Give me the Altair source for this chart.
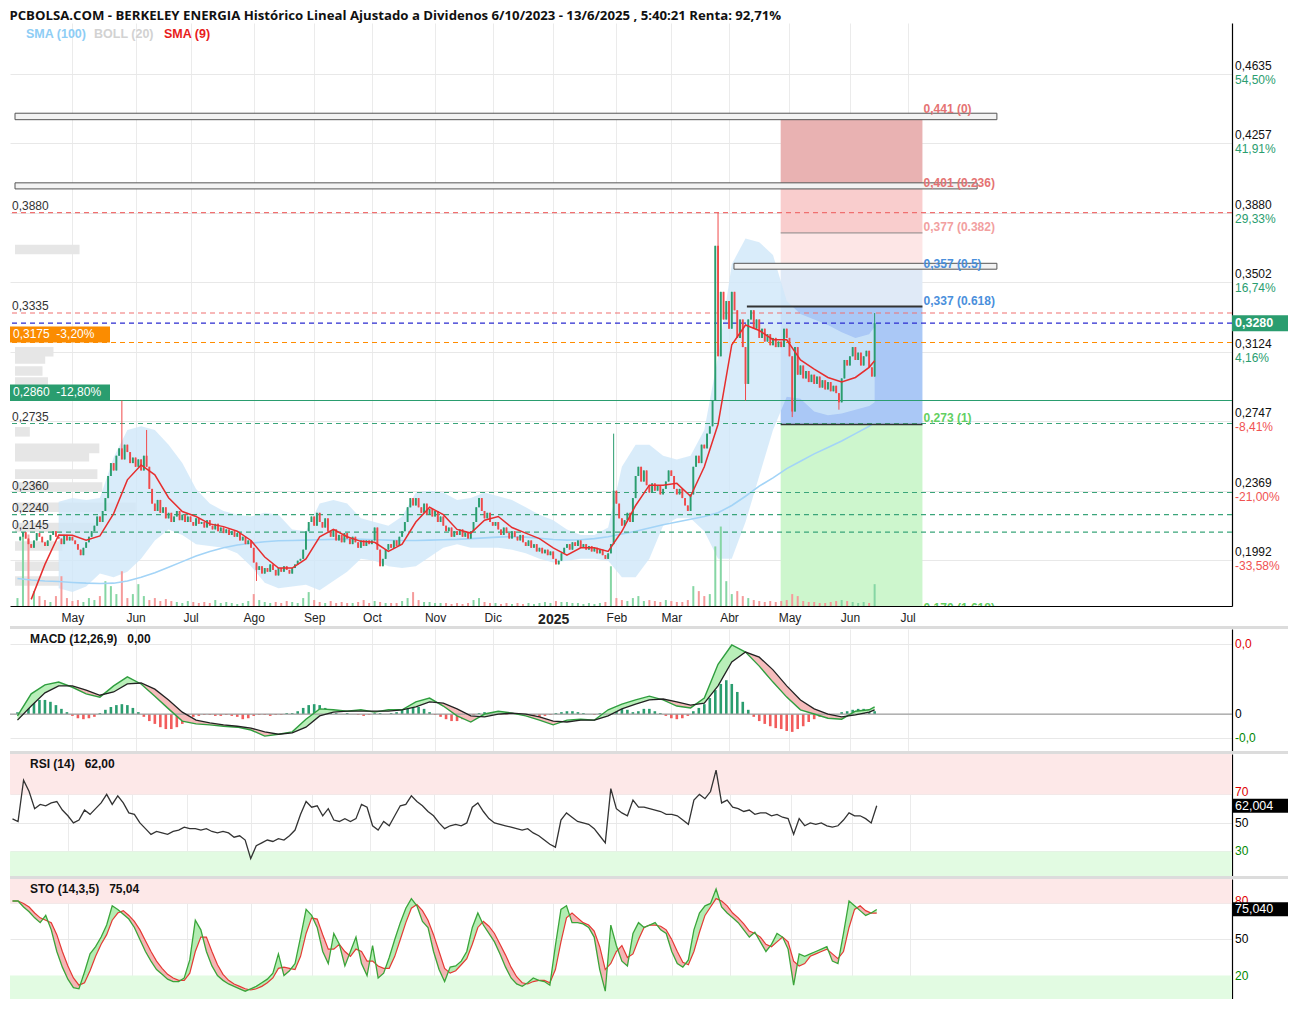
import altair as alt
import numpy as np
import pandas as pd

FONT = "Liberation Sans"
W = 1222
H_MAIN, H_MACD, H_RSI, H_STO = 583, 122, 122, 120
XMIN = -20.9
XMAX = XMIN + W / 2.77
YMIN, YMAX = 0.1744, 0.4910
MACD_DOM = [-7.87, 18.1]
RSI_DOM = [12.8, 98.3]
STO_DOM = [0.5, 100.3]
GREEN = "#2a9d6f"
RED = "#f05252"
NB = "\u00a0"

TITLE = ("PCBOLSA.COM - BERKELEY ENERGIA Histórico Lineal Ajustado a Dividenos "
         "6/10/2023 - 13/6/2025 , 5:40:21 Renta: 92,71%")

# ---------------- daily closes (weekdays from 2024-04-03) ----------------
close_2024_04 = [0.2100, 0.2120, 0.2145, 0.2110, 0.2080, 0.2060, 0.2100, 0.2140, 0.2120, 0.2090,
                 0.2070, 0.2100, 0.2130, 0.2150, 0.2120, 0.2110, 0.2080, 0.2130, 0.2100, 0.2120]
close_2024_05 = [0.2100, 0.2080, 0.2050, 0.2020, 0.2060, 0.2090, 0.2120, 0.2150, 0.2180, 0.2230,
                 0.2200, 0.2260, 0.2330, 0.2450, 0.2520, 0.2480, 0.2560, 0.2600, 0.2540, 0.2620,
                 0.2580, 0.2520, 0.2550]
close_2024_06 = [0.2500, 0.2540, 0.2480, 0.2560, 0.2500, 0.2380, 0.2300, 0.2260, 0.2320, 0.2250,
                 0.2280, 0.2220, 0.2250, 0.2200, 0.2230, 0.2260, 0.2210, 0.2240, 0.2200, 0.2230]
close_2024_07 = [0.2200, 0.2180, 0.2220, 0.2190, 0.2200, 0.2170, 0.2210, 0.2180, 0.2160, 0.2190,
                 0.2150, 0.2170, 0.2140, 0.2160, 0.2130, 0.2150, 0.2120, 0.2140, 0.2100, 0.2120,
                 0.2080, 0.2100, 0.2060]
close_2024_08 = [0.1980, 0.1940, 0.1960, 0.1920, 0.1950, 0.1930, 0.1970, 0.1940, 0.1910, 0.1950,
                 0.1930, 0.1960, 0.1940, 0.1920, 0.1950, 0.1970, 0.1990, 0.2000, 0.2050, 0.2150,
                 0.2200, 0.2230]
close_2024_09 = [0.2180, 0.2250, 0.2200, 0.2170, 0.2220, 0.2150, 0.2120, 0.2160, 0.2100, 0.2130,
                 0.2090, 0.2140, 0.2110, 0.2080, 0.2120, 0.2090, 0.2060, 0.2100, 0.2070, 0.2100,
                 0.2080]
close_2024_10 = [0.2100, 0.2170, 0.2050, 0.1960, 0.2000, 0.2050, 0.2080, 0.2060, 0.2100, 0.2070,
                 0.2120, 0.2150, 0.2200, 0.2280, 0.2330, 0.2290, 0.2330, 0.2280, 0.2250, 0.2300,
                 0.2240, 0.2270, 0.2230]
close_2024_11 = [0.2260, 0.2200, 0.2230, 0.2180, 0.2150, 0.2170, 0.2120, 0.2150, 0.2130, 0.2160,
                 0.2120, 0.2140, 0.2110, 0.2150, 0.2200, 0.2280, 0.2330, 0.2260, 0.2220, 0.2250,
                 0.2200]
close_2024_12 = [0.2180, 0.2200, 0.2160, 0.2130, 0.2170, 0.2140, 0.2110, 0.2150, 0.2120, 0.2100,
                 0.2130, 0.2090, 0.2070, 0.2100, 0.2060, 0.2080, 0.2040, 0.2060, 0.2030, 0.2050,
                 0.2020, 0.2040]
close_2025_01 = [0.2000, 0.1970, 0.1990, 0.2030, 0.2060, 0.2080, 0.2050, 0.2090, 0.2070, 0.2100,
                 0.2060, 0.2080, 0.2050, 0.2070, 0.2040, 0.2060, 0.2030, 0.2050, 0.2020, 0.2000,
                 0.2030, 0.2080, 0.2370]
close_2025_02 = [0.2300, 0.2220, 0.2180, 0.2210, 0.2250, 0.2200, 0.2330, 0.2450, 0.2500, 0.2420,
                 0.2480, 0.2400, 0.2360, 0.2410, 0.2370, 0.2400, 0.2350, 0.2380, 0.2420, 0.2480]
close_2025_03 = [0.2450, 0.2380, 0.2350, 0.2380, 0.2330, 0.2290, 0.2260, 0.2350, 0.2500, 0.2560,
                 0.2520, 0.2620, 0.2600, 0.2680, 0.2720, 0.2860, 0.3700, 0.3100, 0.3450, 0.3300,
                 0.3400]
close_2025_04 = [0.3250, 0.3450, 0.3350, 0.3200, 0.3300, 0.3150, 0.2950, 0.3300, 0.3350, 0.3250,
                 0.3300, 0.3200, 0.3250, 0.3180, 0.3220, 0.3160, 0.3200, 0.3150, 0.3180, 0.3150,
                 0.3250, 0.3200]
close_2025_05 = [0.3100, 0.2800, 0.3150, 0.3000, 0.3050, 0.2980, 0.3020, 0.2960, 0.3000, 0.2950,
                 0.2990, 0.2930, 0.2970, 0.2920, 0.2960, 0.2910, 0.2940, 0.2900, 0.2850, 0.2980,
                 0.3080, 0.3050]
close_2025_06 = [0.3100, 0.3150, 0.3080, 0.3120, 0.3050, 0.3100, 0.3130, 0.3040, 0.2990, 0.3280]

# notable wicks (trading-day index k, relative to 2024-05-01)
hi_k = [18, 27, 197, 235, 292]
hi_v = [0.2860, 0.2700, 0.2680, 0.3880, 0.3335]
lo_k = [67, 245, 262, 279]
lo_v = [0.1880, 0.2860, 0.2770, 0.2810]

# ---------------- 5-day sampled overlays ----------------
sma9 = [None, 0.178, 0.197, 0.213, 0.2128, 0.2101, 0.2125, 0.2246, 0.2429, 0.2510,
        0.2456, 0.2332, 0.2257, 0.2230, 0.2190, 0.2175, 0.2150, 0.2100, 0.2010, 0.1950,
        0.1950, 0.2000, 0.2120, 0.2160, 0.2120, 0.2095, 0.2090, 0.2040, 0.2080, 0.2200,
        0.2280, 0.2240, 0.2160, 0.2140, 0.2210, 0.2230, 0.2170, 0.2140, 0.2110, 0.2060,
        0.2020, 0.2060, 0.2060, 0.2040, 0.2150, 0.2290, 0.2400, 0.2400, 0.2410, 0.2340,
        0.2500, 0.2731, 0.3163, 0.3270, 0.3240, 0.3190, 0.3190, 0.3080, 0.3030, 0.2985,
        0.2960, 0.2985, 0.3040, 0.3076]
sma100 = [0.1893, 0.1885, 0.1880, 0.1877, 0.1872, 0.1868, 0.1866, 0.1868, 0.1880, 0.1900,
          0.1925, 0.1955, 0.1985, 0.2015, 0.2040, 0.2060, 0.2075, 0.2085, 0.2093, 0.2098,
          0.2100, 0.2102, 0.2104, 0.2106, 0.2107, 0.2106, 0.2104, 0.2102, 0.2100, 0.2100,
          0.2102, 0.2104, 0.2106, 0.2110, 0.2114, 0.2118, 0.2120, 0.2118, 0.2112, 0.2105,
          0.2102, 0.2104, 0.2110, 0.2120, 0.2135, 0.2150, 0.2168, 0.2185, 0.2200, 0.2215,
          0.2230, 0.2250, 0.2290, 0.2340, 0.2395, 0.2440, 0.2490, 0.2530, 0.2570, 0.2605,
          0.2640, 0.2680, 0.2720, 0.2742]
bb_up = [None, None, None, 0.2310, 0.2330, 0.2320, 0.2330, 0.2550, 0.2700, 0.2720,
         0.2700, 0.2620, 0.2520, 0.2380, 0.2300, 0.2260, 0.2240, 0.2230, 0.2250, 0.2240,
         0.2160, 0.2150, 0.2300, 0.2320, 0.2300, 0.2220, 0.2200, 0.2180, 0.2230, 0.2360,
         0.2370, 0.2360, 0.2320, 0.2330, 0.2360, 0.2340, 0.2320, 0.2280, 0.2240, 0.2210,
         0.2160, 0.2130, 0.2130, 0.2170, 0.2500, 0.2620, 0.2620, 0.2560, 0.2540, 0.2560,
         0.2700, 0.3100, 0.3600, 0.3740, 0.3720, 0.3650, 0.3400, 0.3330, 0.3300, 0.3270,
         0.3230, 0.3200, 0.3220, 0.3260]
bb_lo = [None, None, None, 0.1840, 0.1820, 0.1850, 0.1920, 0.1900, 0.1930, 0.2000,
         0.2100, 0.2160, 0.2130, 0.2080, 0.2070, 0.2060, 0.2030, 0.1960, 0.1870, 0.1840,
         0.1850, 0.1860, 0.1830, 0.1880, 0.1930, 0.2000, 0.1990, 0.1960, 0.1950, 0.1960,
         0.2010, 0.2060, 0.2080, 0.2060, 0.2060, 0.2060, 0.2050, 0.2030, 0.2000, 0.1980,
         0.1990, 0.2000, 0.2000, 0.1990, 0.1900, 0.1900, 0.2000, 0.2180, 0.2220, 0.2220,
         0.2150, 0.2000, 0.2000, 0.2200, 0.2450, 0.2700, 0.2880, 0.2870, 0.2800, 0.2780,
         0.2790, 0.2810, 0.2830, 0.2850]
macd = [-0.4, 4.3, 6.2, 6.8, 5.7, 4.3, 3.6, 6.0, 7.9, 6.4,
        3.8, 1.1, -1.5, -2.1, -2.3, -2.6, -2.8, -3.4, -4.7, -4.3,
        -3.8, -1.1, 1.1, 0.9, 0.6, 0.9, 0.4, 0.9, 0.9, 2.6,
        3.4, 1.7, -0.4, -1.7, 0.0, 0.6, 0.2, -0.4, -1.3, -2.3,
        -1.3, -1.1, -1.3, 0.9, 2.1, 3.0, 3.8, 3.0, 1.7, 1.3,
        3.4, 10.6, 14.7, 13.2, 10.2, 6.8, 3.6, 0.9, 0.0, -0.9,
        -1.1, 0.6, 0.9, 1.5]
signal = [-1.3, 1.7, 4.5, 6.0, 6.0, 5.1, 4.0, 4.7, 6.4, 6.6,
          5.3, 3.0, 0.4, -1.3, -1.9, -2.3, -2.6, -3.0, -3.8, -4.3,
          -4.0, -2.8, -0.4, 0.4, 0.6, 0.6, 0.6, 0.6, 0.9, 1.5,
          2.6, 2.3, 1.1, -0.4, -0.6, 0.0, 0.2, 0.0, -0.6, -1.5,
          -1.7, -1.3, -1.3, -0.4, 1.1, 2.1, 3.0, 3.2, 2.6, 1.9,
          2.3, 6.0, 11.1, 13.2, 12.1, 9.4, 6.0, 3.0, 1.1, 0.0,
          -0.6, -0.2, 0.4, 0.9]

# ---------------- 2-day sampled series ----------------
hist = [0.4, 1.1, 1.9, 2.6, 3.0, 3.0, 2.6, 1.9, 1.1, 0.4,
        -0.4, -0.9, -1.1, -0.9, -0.6, 0.2, 0.9, 1.5, 1.9, 2.1,
        1.9, 1.3, 0.4, -0.6, -1.5, -2.1, -2.8, -3.2, -3.2, -2.8,
        -2.1, -1.3, -0.6, -0.4, -0.2, -0.2, -0.4, -0.4, -0.2, -0.4,
        -0.6, -1.1, -0.9, -0.4, -0.2, -0.2, -0.4, -0.2, -0.2, 0.2,
        0.2, 0.6, 1.3, 1.9, 2.1, 1.9, 1.3, 0.6, 0.2, 0.0,
        0.2, 0.0, -0.2, -0.4, -0.2, 0.2, 0.2, 0.0, 0.2, 0.4,
        0.9, 1.3, 1.7, 1.5, 1.1, 0.4, -0.2, -0.6, -1.1, -1.5,
        -1.5, -1.1, -0.6, -0.2, 0.2, 0.4, 0.2, 0.0, -0.2, -0.2,
        0.0, 0.2, -0.2, -0.4, -0.4, -0.6, -0.4, -0.2, 0.2, 0.4,
        0.6, 0.6, 0.4, 0.2, 0.0, -0.2, 0.2, 0.4, 0.9, 1.1,
        1.1, 0.9, 0.4, 0.6, 1.1, 1.1, 0.6, 0.2, -0.4, -0.9,
        -1.1, -0.9, -0.4, 0.6, 1.3, 2.1, 3.4, 5.1, 6.4, 7.2,
        6.4, 4.7, 2.6, 0.9, -0.6, -1.5, -2.1, -2.6, -3.0, -3.2,
        -3.6, -3.8, -3.2, -2.6, -1.7, -1.1, -0.6, -0.4, -0.2, 0.0,
        0.4, 0.6, 0.9, 1.1, 1.1, 0.9, 0.6]
volume = [8, 70, 72, 15, 10, 6, 4, 10, 30, 8,
          5, 6, 4, 8, 6, 10, 25, 20, 12, 35,
          8, 12, 22, 10, 6, 8, 5, 7, 5, 4,
          3, 5, 4, 3, 4, 3, 6, 3, 4, 3,
          2, 3, 5, 12, 6, 4, 3, 4, 3, 5,
          4, 3, 8, 14, 6, 4, 3, 5, 3, 4,
          3, 3, 4, 6, 3, 5, 4, 3, 3, 3,
          5, 8, 14, 6, 4, 4, 3, 3, 3, 2,
          3, 2, 3, 6, 8, 4, 3, 3, 2, 3,
          2, 3, 2, 3, 2, 3, 4, 3, 5, 4,
          4, 3, 3, 2, 3, 2, 3, 4, 40, 8,
          6, 5, 8, 10, 5, 6, 5, 4, 6, 5,
          4, 4, 6, 20, 15, 10, 12, 60, 80, 25,
          12, 15, 10, 8, 6, 5, 4, 5, 4, 5,
          6, 12, 10, 5, 4, 4, 3, 3, 4, 5,
          6, 5, 4, 3, 4, 3, 22]
rsi = [52.8, 51, 80, 72, 60, 63, 62, 64, 65, 59,
       55, 50, 52, 59, 56, 60, 64, 70, 63, 69,
       64, 57, 56, 50, 46, 42, 44, 43, 42, 44,
       45, 47, 46, 46, 45, 46, 44, 43, 44, 43,
       40, 41, 38, 25, 34, 36, 38, 37, 39, 38,
       41, 45, 56, 65, 61, 62, 55, 60, 52, 51,
       53, 51, 53, 63, 61, 48, 45, 51, 48, 55,
       62, 63, 69, 65, 62, 58, 55, 50, 46, 48,
       49, 48, 50, 61, 64, 58, 53, 50, 49, 48,
       47, 46, 45, 46, 43, 41, 38, 35, 33, 52,
       57, 54, 51, 50, 49, 46, 41, 36, 74, 60,
       57, 55, 66, 61, 61, 60, 59, 58, 56, 56,
       55, 52, 49, 66, 70, 67, 72, 87, 64, 66,
       61, 60, 58, 59, 56, 57, 57, 55, 56, 54,
       53, 42, 53, 48, 50, 49, 50, 48, 47, 48,
       52, 57, 55, 55, 53, 50, 62]
sto_k = [82, 82, 77, 73, 68, 64, 70, 58, 40, 27,
         17, 10, 9, 23, 38, 44, 52, 62, 78, 75,
         71, 67, 60, 50, 40, 32, 25, 21, 17, 15,
         15, 18, 33, 66, 58, 40, 28, 20, 16, 13,
         11, 9, 7, 9, 11, 14, 17, 22, 38, 20,
         24, 30, 52, 75, 70, 60, 40, 30, 55, 46,
         28, 40, 52, 30, 20, 45, 18, 22, 35, 50,
         64, 76, 84, 78, 65, 60, 40, 25, 15, 27,
         28, 32, 40, 60, 72, 62, 55, 48, 38, 27,
         18, 13, 11, 14, 18, 16, 15, 12, 45, 75,
         78, 64, 64, 63, 60, 52, 25, 7, 62, 45,
         32, 28, 55, 64, 60, 62, 64, 58, 55, 40,
         30, 27, 33, 58, 72, 78, 80, 92, 77, 72,
         68, 64, 58, 52, 56, 48, 40, 46, 55, 52,
         42, 12, 38, 36, 38, 40, 42, 44, 32, 30,
         55, 82, 78, 74, 70, 72, 75]
sto_d = [82, 82, 80, 77, 72, 68, 66, 64, 54, 40,
         28, 18, 12, 14, 24, 36, 46, 54, 66, 72,
         74, 70, 65, 58, 49, 40, 32, 26, 21, 18,
         16, 16, 22, 40, 52, 52, 40, 29, 21, 16,
         13, 11, 9, 8, 9, 11, 14, 18, 26, 27,
         26, 25, 36, 55, 68, 67, 54, 42, 42, 46,
         40, 36, 42, 40, 32, 32, 28, 26, 26, 36,
         50, 64, 76, 79, 74, 66, 54, 40, 26, 22,
         24, 29, 34, 46, 60, 65, 61, 55, 46, 37,
         27, 19, 14, 13, 15, 16, 16, 14, 25, 48,
         68, 72, 68, 64, 62, 57, 44, 25, 30, 40,
         45, 35, 38, 50, 60, 62, 62, 61, 58, 50,
         40, 31, 29, 40, 56, 70, 77, 84, 82, 78,
         72, 68, 63, 57, 55, 52, 46, 44, 48, 52,
         48, 32, 28, 30, 36, 38, 40, 42, 38, 34,
         40, 60, 75, 78, 74, 72, 72]

# ---------------- levels, labels ----------------
r_vals = [0.4635, 0.4257, 0.3880, 0.3502, 0.3124, 0.2747, 0.2369, 0.1992]
r_txt = ["0,4635", "0,4257", "0,3880", "0,3502", "0,3124", "0,2747", "0,2369", "0,1992"]
r_pct = ["54,50%", "41,91%", "29,33%", "16,74%", "4,16%", "-8,41%", "-21,00%", "-33,58%"]

lev_v = [0.3880, 0.3335, 0.3280, 0.3175, 0.2735, 0.2360, 0.2240, 0.2145]
lev_c = ["#f07070", "#f07070", "#2b2bd0", "#ff8c00", "#3aa57a", "#3aa57a", "#3aa57a", "#3aa57a"]
left_v = [0.3880, 0.3335, 0.2735, 0.2360, 0.2240, 0.2145]
left_txt = ["0,3880", "0,3335", "0,2735", "0,2360", "0,2240", "0,2145"]
support_v = 0.2860
now_v, now_txt = 0.3280, "0,3280"
orange_v, orange_txt = 0.3175, "0,3175" + NB * 2 + "-3,20%"
green_v, green_txt = 0.2860, "0,2860" + NB * 2 + "-12,80%"

fib_v = [0.441, 0.401, 0.377, 0.357, 0.337, 0.273, 0.170]
fib_txt = ["0,441 (0)", "0,401 (0.236)", "0,377 (0.382)", "0,357 (0.5)",
           "0,337 (0.618)", "0,273 (1)", "0,170 (1.618)"]
fib_col = ["#e57373", "#e57373", "#f2a0a0", "#4a8fdc", "#4a8fdc", "#62cf62", "#62cf62"]
zone_lo = [0.401, 0.377, 0.357, 0.337, 0.273, YMIN]
zone_hi = [0.441, 0.401, 0.377, 0.357, 0.337, 0.273]
zone_col = ["#e9b2b2", "#f9cdcd", "#fde6e6", "#e0eaf7", "#aac8f6", "#cdf6cd"]
zone_k0, zone_k1 = 257.8, 309.4
box_lo = [0.4385, 0.4009, 0.3573]
box_hi = [0.4420, 0.4042, 0.3605]
box_k0 = [XMIN, XMIN, 240.8]
box_k1 = [336.5, 329.3, 336.5]
fl_v = [0.377, 0.337, 0.273]
fl_k0 = [257.8, 245.5, 257.8]
fl_k1 = [309.4, 309.4, 309.4]
fl_col = ["#888888", "#333333", "#333333"]
fl_w = [1.0, 2.0, 1.5]

pv_price = [0.368, 0.3215, 0.3125, 0.3085, 0.3020, 0.2960, 0.2690, 0.2600, 0.2555, 0.2460,
            0.2390, 0.2280, 0.2170, 0.2070, 0.1960, 0.1880]
pv_len = [23.5, 18, 14, 11, 10, 12, 5.4, 30.7, 27, 30, 31.8, 44, 31.8, 17.3, 16.2, 16.2]

month_dates = ["2024-05-01", "2024-06-03", "2024-07-01", "2024-08-01", "2024-09-02", "2024-10-01",
               "2024-11-01", "2024-12-02", "2025-01-01", "2025-02-03", "2025-03-03", "2025-04-01",
               "2025-05-01", "2025-06-02", "2025-07-01"]
month_labels = ["May", "Jun", "Jul", "Ago", "Sep", "Oct", "Nov", "Dic", "2025", "Feb", "Mar",
                "Abr", "May", "Jun", "Jul"]

# ---------------- build tables ----------------
closes = (close_2024_04 + close_2024_05 + close_2024_06 + close_2024_07 + close_2024_08 +
          close_2024_09 + close_2024_10 + close_2024_11 + close_2024_12 + close_2025_01 +
          close_2025_02 + close_2025_03 + close_2025_04 + close_2025_05 + close_2025_06)
n = len(closes)
K_DAY = list(range(-20, -20 + n))
K5 = list(range(-20, 291, 5)) + [292]
K2 = list(range(-20, 293, 2))

opens = [closes[0]] + closes[:-1]
highs = [max(o, c) for o, c in zip(opens, closes)]
lows = [min(o, c) for o, c in zip(opens, closes)]
for kk, v in zip(hi_k, hi_v):
    highs[kk + 20] = max(highs[kk + 20], v)
for kk, v in zip(lo_k, lo_v):
    lows[kk + 20] = min(lows[kk + 20], v)
candles = pd.DataFrame({"k": K_DAY, "o": opens, "c": closes, "hi": highs, "lo": lows})
candles["col"] = np.where(candles["c"] >= candles["o"], GREEN, "#f04a4a")

vol_df = pd.DataFrame({"k": K2, "vol": volume})
vol_df["col"] = ["#86d6a4" if closes[k + 20] >= opens[k + 20] else "#f59b9b" for k in K2]

ov = pd.DataFrame({"k": K5, "sma9": sma9, "sma100": sma100, "up": bb_up, "lo": bb_lo,
                   "macd": macd, "sig": signal})
ind2 = pd.DataFrame({"k": K2, "h": hist, "rsi": rsi})
ind2["col"] = np.where(ind2["h"] >= 0, "#2a9d6f", "#f25c5c")

month_k = [len(pd.bdate_range("2024-05-01", d)) - 1 for d in month_dates]
k2025 = month_k[month_labels.index("2025")]
lab_expr = "".join(f"datum.value == {kk} ? '{lb}' : " for kk, lb in zip(month_k, month_labels)) + "''"


def split_fill(xs, a, b, cpos, cneg):
    rows, seg = [], 0
    for i in range(len(xs)):
        s = a[i] >= b[i]
        if i > 0:
            ps = a[i - 1] >= b[i - 1]
            if s != ps:
                d0, d1 = a[i - 1] - b[i - 1], a[i] - b[i]
                t = d0 / (d0 - d1)
                xc = xs[i - 1] + t * (xs[i] - xs[i - 1])
                yc = a[i - 1] + t * (a[i] - a[i - 1])
                rows.append((xc, yc, yc, seg, cpos if ps else cneg))
                seg += 1
                rows.append((xc, yc, yc, seg, cpos if s else cneg))
        rows.append((xs[i], a[i], b[i], seg, cpos if s else cneg))
    return pd.DataFrame(rows, columns=["x", "a", "b", "seg", "col"])


# ---------------- encodings ----------------
ax_x_main = alt.Axis(values=month_k, labelExpr=lab_expr, grid=True, gridColor="#ebebeb",
                     ticks=False, domain=True, domainColor="#000000", domainWidth=1,
                     labelPadding=6, labelColor="#222222", labelFont=FONT, labelOverlap=False,
                     labelFlush=False, title=None,
                     labelFontSize={"condition": {"test": f"datum.value == {k2025}", "value": 14}, "value": 12},
                     labelFontWeight={"condition": {"test": f"datum.value == {k2025}", "value": "bold"},
                                      "value": "normal"})
ax_x_ind = alt.Axis(values=month_k, labels=False, ticks=False, domain=False, grid=True,
                    gridColor="#ebebeb", title=None)


def xenc(field, ax):
    return alt.X(f"{field}:Q", scale=alt.Scale(domain=[XMIN, XMAX], nice=False, zero=False), axis=ax)


def yenc(field, dom, ax):
    return alt.Y(f"{field}:Q", scale=alt.Scale(domain=dom, nice=False, zero=False), axis=ax)


def right_axis(vals):
    return alt.Axis(orient="right", values=vals, labels=False, ticks=False, domain=True,
                    domainColor="#000000", domainWidth=1.2, grid=True, gridColor="#e8e8e8", title=None)


AXM = right_axis(r_vals)
YD = [YMIN, YMAX]


def one(txt):
    return pd.DataFrame({"t": [txt]})


def pixel_box(v, txt, x0, x1, off0, off1, fill, dom, ax, tx, tcol, bold=False, tdy=0, size=12):
    d = pd.DataFrame({"v": [v], "t": [txt]})
    bx = alt.Chart(d).mark_rect(color=fill, yOffset=off0, y2Offset=off1).encode(
        x=alt.value(x0), x2=alt.value(x1), y=yenc("v", dom, ax), y2="v")
    t = alt.Chart(d).mark_text(align="left", baseline="middle", font=FONT, fontSize=size,
                               fontWeight="bold" if bold else "normal", color=tcol, dy=tdy).encode(
        x=alt.value(tx), y=yenc("v", dom, ax), text="t")
    return [bx, t]


# ---------------- main panel ----------------
zone_df = pd.DataFrame({"lo": zone_lo, "hi": zone_hi, "col": zone_col, "k0": zone_k0, "k1": zone_k1})
zones = alt.Chart(zone_df).mark_rect().encode(
    x=xenc("k0", ax_x_main), x2="k1", y=yenc("lo", YD, None), y2="hi",
    color=alt.Color("col:N", scale=None))
pv_df = pd.DataFrame({"p": pv_price, "len": pv_len})
pv_df["y0"] = pv_df["p"] - 0.0026
pv_df["y1"] = pv_df["p"] + 0.0026
pv_df["x0"] = XMIN
pv_df["x1"] = XMIN + pv_df["len"]
profile = alt.Chart(pv_df).mark_rect(color="#e6e6e6").encode(
    x=xenc("x0", ax_x_main), x2="x1", y=yenc("y0", YD, None), y2="y1")
band = alt.Chart(ov.dropna(subset=["up"])).mark_area(color="#cfe7f9", opacity=0.8).encode(
    x=xenc("k", ax_x_main), y=yenc("up", YD, None), y2="lo")
bottom = alt.layer(zones, profile, band)

vol = alt.Chart(vol_df).mark_bar(width=2).encode(
    x=xenc("k", ax_x_main),
    y=alt.Y("vol:Q", scale=alt.Scale(domain=[0, 587], nice=False), axis=None),
    y2=alt.datum(0),
    color=alt.Color("col:N", scale=None))

sma100_l = alt.Chart(ov).mark_line(color="#a3d4f7", strokeWidth=1.6).encode(
    x=xenc("k", ax_x_main), y=yenc("sma100", YD, AXM))
lev_df = pd.DataFrame({"v": lev_v, "col": lev_c})
dashed = alt.Chart(lev_df).mark_rule(strokeDash=[5, 4], strokeWidth=1.1).encode(
    y=yenc("v", YD, AXM), color=alt.Color("col:N", scale=None))
solid = alt.Chart(pd.DataFrame({"v": [support_v]})).mark_rule(color=GREEN, strokeWidth=1.2).encode(
    y=yenc("v", YD, AXM))
box_df = pd.DataFrame({"lo": box_lo, "hi": box_hi, "k0": box_k0, "k1": box_k1})
boxes = alt.Chart(box_df).mark_rect(fill="#f3f3f3", stroke="#555555", strokeWidth=1).encode(
    x=xenc("k0", ax_x_main), x2="k1", y=yenc("lo", YD, AXM), y2="hi")
fl_df = pd.DataFrame({"v": fl_v, "k0": fl_k0, "k1": fl_k1, "col": fl_col, "w": fl_w})
fiblines = alt.Chart(fl_df).mark_rule().encode(
    x=xenc("k0", ax_x_main), x2="k1", y=yenc("v", YD, AXM),
    color=alt.Color("col:N", scale=None), strokeWidth=alt.StrokeWidth("w:Q", scale=None))
wicks = alt.Chart(candles).mark_rule(strokeWidth=1).encode(
    x=xenc("k", ax_x_main), y=yenc("lo", YD, AXM), y2="hi", color=alt.Color("col:N", scale=None))
bodies = alt.Chart(candles).mark_rule(strokeWidth=1.9).encode(
    x=xenc("k", ax_x_main), y=yenc("o", YD, AXM), y2="c", color=alt.Color("col:N", scale=None))
sma9_l = alt.Chart(ov.dropna(subset=["sma9"])).mark_line(color="#e62e2e", strokeWidth=1.5).encode(
    x=xenc("k", ax_x_main), y=yenc("sma9", YD, AXM))

left_df = pd.DataFrame({"v": left_v, "t": left_txt})
left_labels = alt.Chart(left_df).mark_text(align="left", baseline="bottom", font=FONT, fontSize=12,
                                           color="#333333").encode(
    x=alt.value(2), y=yenc("v", YD, AXM), text="t")

r_df = pd.DataFrame({"v": r_vals, "t": r_txt, "p": r_pct})
r_df["pc"] = [RED if p.startswith("-") else GREEN for p in r_pct]
r_price = alt.Chart(r_df).mark_text(align="left", baseline="bottom", font=FONT, fontSize=12,
                                    color="#111111", dy=-1).encode(
    x=alt.value(W + 3), y=yenc("v", YD, AXM), text="t")
r_pctl = alt.Chart(r_df).mark_text(align="left", baseline="top", font=FONT, fontSize=12, dy=1).encode(
    x=alt.value(W + 3), y=yenc("v", YD, AXM), text="p", color=alt.Color("pc:N", scale=None))

fib_df = pd.DataFrame({"v": fib_v, "t": fib_txt, "col": fib_col, "k": 309.8})
fib_labels = alt.Chart(fib_df).mark_text(align="left", baseline="bottom", font=FONT, fontSize=12,
                                         fontWeight="bold", dy=1, clip=True).encode(
    x=xenc("k", ax_x_main), y=yenc("v", YD, AXM), text="t", color=alt.Color("col:N", scale=None))

legend = []
for txt, px, col in [("SMA (100)", 16, "#8ecdf5"), ("BOLL (20)", 84, "#d2d2d2"), ("SMA (9)", 154, "#e81c1c")]:
    legend.append(alt.Chart(one(txt)).mark_text(align="left", baseline="middle", font=FONT, fontSize=12.5,
                                                fontWeight="bold", color=col).encode(
        x=alt.value(px), y=alt.value(11), text="t"))

top_layers = [sma100_l, dashed, solid, boxes, fiblines, wicks, bodies, sma9_l, left_labels]
top_layers += pixel_box(orange_v, orange_txt, 0, 100, -16, 0, "#fb8c00", YD, AXM, 3, "white", tdy=-8)
top_layers += pixel_box(green_v, green_txt, 0, 100, -16, 0, GREEN, YD, AXM, 3, "white", tdy=-8)
top_layers += [r_price, r_pctl]
top_layers += pixel_box(now_v, now_txt, W, W + 56, -8, 8, GREEN, YD, AXM, W + 3, "white", bold=True, size=12.5)
top_layers += [fib_labels] + legend
top = alt.layer(*top_layers)

main = alt.layer(bottom, vol, top).resolve_scale(y="independent").properties(
    width=W, height=H_MAIN,
    title=alt.TitleParams(TITLE, anchor="start", font="Open Sans", fontSize=13.2, fontWeight="bold",
                          color="#111111", offset=1, dy=1))


# ---------------- indicator panels ----------------
def separator():
    return alt.Chart(one("")).mark_rule(color="#dcdcdc", strokeWidth=3).encode(
        x=alt.value(0), x2=alt.value(W + 56), y=alt.value(-1.5))


def panel_title(txt):
    return alt.Chart(one(txt)).mark_text(align="left", baseline="middle", font=FONT, fontSize=12,
                                         fontWeight="bold", color="#111111").encode(
        x=alt.value(20), y=alt.value(10), text="t")


def right_labels(vals, txts, cols, dom, ax, dys):
    d = pd.DataFrame({"v": vals, "t": txts, "c": cols})
    out = []
    for i in range(len(vals)):
        out.append(alt.Chart(d.iloc[[i]]).mark_text(align="left", baseline="middle", font=FONT,
                                                    fontSize=12, dy=dys[i]).encode(
            x=alt.value(W + 3), y=yenc("v", dom, ax), text="t", color=alt.Color("c:N", scale=None)))
    return out


def zones_panel(lo, hi, dom, ax):
    d = pd.DataFrame({"lo": lo, "hi": hi, "c": ["#fde8e8", "#e2fbe2"]})
    return alt.Chart(d).mark_rect().encode(
        x=alt.value(0), x2=alt.value(W), y=yenc("lo", dom, ax), y2="hi", color=alt.Color("c:N", scale=None))


# MACD
AXD = right_axis([15, 0, -5])
macd_fill_df = split_fill(K5, macd, signal, "#b9efb9", "#f6bcbc")
macd_panel = alt.layer(
    separator(),
    alt.Chart(ind2).mark_bar(width=2.6).encode(
        x=xenc("k", ax_x_ind), y=yenc("h", MACD_DOM, AXD), y2=alt.datum(0),
        color=alt.Color("col:N", scale=None)),
    alt.Chart(macd_fill_df).mark_area().encode(
        x=xenc("x", ax_x_ind), y=yenc("a", MACD_DOM, AXD), y2="b", detail="seg:N",
        color=alt.Color("col:N", scale=None)),
    alt.Chart(pd.DataFrame({"v": [0]})).mark_rule(color="#a0a0a0", strokeWidth=1.2).encode(
        y=yenc("v", MACD_DOM, AXD)),
    alt.Chart(ov).mark_line(color="#2f9e3f", strokeWidth=1.4).encode(
        x=xenc("k", ax_x_ind), y=yenc("macd", MACD_DOM, AXD)),
    alt.Chart(ov).mark_line(color="#222222", strokeWidth=1.3).encode(
        x=xenc("k", ax_x_ind), y=yenc("sig", MACD_DOM, AXD)),
    *right_labels([15, 0, -5], ["0,0", "0", "-0,0"], ["#e00000", "#000000", "#008800"], MACD_DOM, AXD,
                  [0, 0, 0]),
    panel_title("MACD (12,26,9)" + NB * 3 + "0,00"),
).properties(width=W, height=H_MACD)

# RSI
AXR = right_axis([70, 50, 30])
rsi_panel = alt.layer(
    separator(),
    zones_panel([70, RSI_DOM[0]], [RSI_DOM[1], 30], RSI_DOM, AXR),
    alt.Chart(ind2).mark_line(color="#333333", strokeWidth=1.3).encode(
        x=xenc("k", ax_x_ind), y=yenc("rsi", RSI_DOM, AXR)),
    *right_labels([70, 50, 30], ["70", "50", "30"], ["#e00000", "#000000", "#008800"], RSI_DOM, AXR,
                  [-2, 0, 0]),
    *pixel_box(62.004, "62,004", W, W + 56, -7, 7, "#000000", RSI_DOM, AXR, W + 3, "white", size=12.5),
    panel_title("RSI (14)" + NB * 3 + "62,00"),
).properties(width=W, height=H_RSI)

# STO
AXS = right_axis([80, 50, 20])
sto_fill_df = split_fill(K2, sto_k, sto_d, "#b3edb3", "#f5b5b5")
sto_df = pd.DataFrame({"k": K2, "kk": sto_k, "dd": sto_d})
sto_panel = alt.layer(
    separator(),
    zones_panel([80, STO_DOM[0]], [STO_DOM[1], 20], STO_DOM, AXS),
    alt.Chart(sto_fill_df).mark_area().encode(
        x=xenc("x", ax_x_ind), y=yenc("a", STO_DOM, AXS), y2="b", detail="seg:N",
        color=alt.Color("col:N", scale=None)),
    alt.Chart(sto_df).mark_line(color="#e53935", strokeWidth=1.2).encode(
        x=xenc("k", ax_x_ind), y=yenc("dd", STO_DOM, AXS)),
    alt.Chart(sto_df).mark_line(color="#3aa53a", strokeWidth=1.3).encode(
        x=xenc("k", ax_x_ind), y=yenc("kk", STO_DOM, AXS)),
    *right_labels([80, 50, 20], ["80", "50", "20"], ["#e00000", "#000000", "#008800"], STO_DOM, AXS,
                  [-2, 0, 0]),
    *pixel_box(75.04, "75,040", W, W + 56, -7, 7, "#000000", STO_DOM, AXS, W + 3, "white", size=12.5),
    panel_title("STO (14,3,5)" + NB * 3 + "75,04"),
).properties(width=W, height=H_STO)

chart = alt.vconcat(main, macd_panel, rsi_panel, sto_panel, spacing=0).properties(
    padding=0, background="white"
).configure_view(stroke=None).configure_axis(labelFont=FONT)

chart.save("out.html", embed_options={"renderer": "svg", "actions": False})
